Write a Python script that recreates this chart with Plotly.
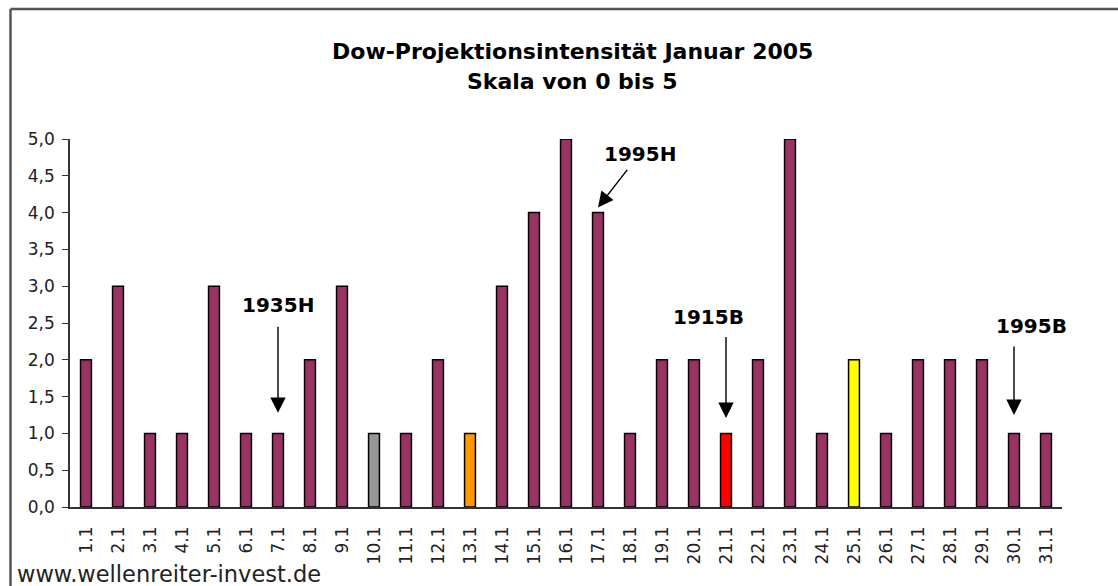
import plotly.graph_objects as go

categories = [f"{d}.1" for d in range(1, 32)]
values = [2, 3, 1, 1, 3, 1, 1, 2, 3, 1, 1, 2, 1, 3, 4, 5, 4, 1, 2, 2, 1, 2, 5, 1, 2, 1, 2, 2, 2, 1, 1]
special_colors = {"10.1": "#969696", "13.1": "#FF9900", "21.1": "#FF0000", "25.1": "#FFFF00"}
base_color = "#993366"
title_lines = ["Dow-Projektionsintensität Januar 2005", "Skala von 0 bis 5"]
watermark = "www.wellenreiter-invest.de"
y_ticks = [0, 0.5, 1, 1.5, 2, 2.5, 3, 3.5, 4, 4.5, 5]

# annotation labels: (label, target category, text x offset in categories, text y, tail y, tip y, tail x offset)
marks = [
    ("1935H", "7.1", 0.0, 2.75, 2.47, 1.28, 0.0),
    ("1995H", "17.1", 1.3, 4.8, 4.6, 4.07, 0.95),
    ("1915B", "21.1", -0.55, 2.58, 2.33, 1.21, 0.0),
    ("1995B", "30.1", 0.55, 2.46, 2.2, 1.25, 0.0),
]

W, H = 1118, 586
L, R, T, B = 70, 56, 139, 79
pw, ph = W - L - R, H - T - B

def px_x(p):
    return (p - L) / pw

def px_y(p):
    return (H - B - p) / ph

colors = [special_colors.get(c, base_color) for c in categories]
FONT = "DejaVu Sans"

fig = go.Figure(go.Bar(
    x=categories, y=values,
    marker=dict(color=colors, line=dict(color="black", width=1.5)),
    width=0.34,
    hoverinfo="x+y",
))

annotations = []
for i, line in enumerate(title_lines):
    annotations.append(dict(
        text=f"<b>{line}</b>", xref="paper", yref="paper",
        x=px_x(572), y=px_y(52 + i * 29), xanchor="center", yanchor="middle",
        showarrow=False, font=dict(family=FONT, size=22, color="black"),
    ))
annotations.append(dict(
    text=watermark, xref="paper", yref="paper", x=px_x(15), y=px_y(574),
    xanchor="left", yanchor="middle", showarrow=False,
    font=dict(family=FONT, size=22.5, color="#222222"),
))
for label, cat, dx, ty, tail_y, tip_y, tail_dx in marks:
    idx = categories.index(cat)
    annotations.append(dict(
        text=f"<b>{label}</b>", x=idx + dx, y=ty, xref="x", yref="y",
        xanchor="center", yanchor="middle", showarrow=False,
        font=dict(family=FONT, size=20, color="black"),
    ))
    annotations.append(dict(
        text="", x=idx, y=tip_y, xref="x", yref="y",
        ax=idx + tail_dx, ay=tail_y, axref="x", ayref="y",
        showarrow=True, arrowhead=2, arrowsize=2.2, arrowwidth=1.4,
        arrowcolor="black", standoff=0, startstandoff=0,
    ))

shapes = [
    dict(type="line", xref="paper", yref="paper", x0=px_x(10.5), x1=px_x(1130),
         y0=px_y(9), y1=px_y(9), line=dict(color="#555555", width=2.5)),
    dict(type="line", xref="paper", yref="paper", x0=px_x(10.5), x1=px_x(10.5),
         y0=px_y(9), y1=px_y(600), line=dict(color="#555555", width=2.5)),
]

fig.update_layout(
    width=W, height=H,
    margin=dict(l=L, r=R, t=T, b=B, autoexpand=False),
    paper_bgcolor="white", plot_bgcolor="white",
    separators=",.",
    showlegend=False,
    annotations=annotations,
    shapes=shapes,
    font=dict(family=FONT, size=17, color="#222222"),
    xaxis=dict(
        type="category", showline=True, linecolor="#333333", linewidth=1.5,
        ticks="", tickangle=-90, ticklabelstandoff=11, showgrid=False,
        automargin=False,
        tickfont=dict(family=FONT, size=17, color="#222222"),
        range=[-0.5, len(categories) - 0.5],
    ),
    yaxis=dict(
        range=[0, 5], tickvals=y_ticks, tickformat=".1f", showline=True,
        linecolor="#333333", linewidth=1.5, ticks="outside", ticklen=6,
        tickcolor="#333333", showgrid=False, zeroline=False,
        ticklabelstandoff=4, automargin=False,
        tickfont=dict(family=FONT, size=17, color="#222222"),
    ),
)

fig.write_html(
    "out.html",
    config={"displayModeBar": False},
    post_script="document.body.style.margin='0';document.body.style.overflow='hidden';",
)
